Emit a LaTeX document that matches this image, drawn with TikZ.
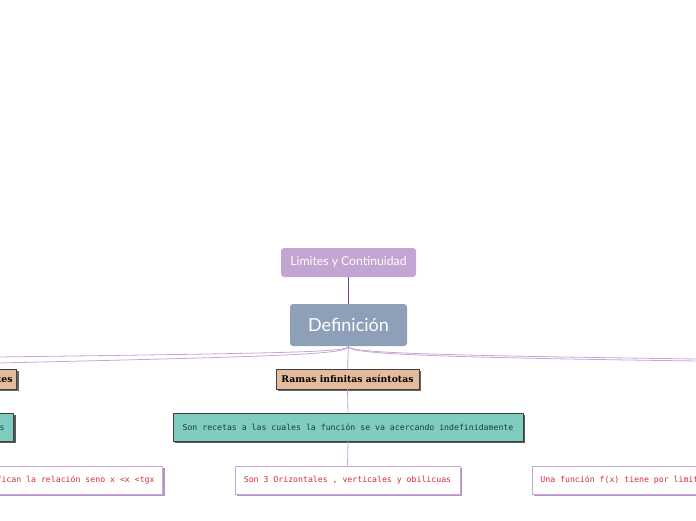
\documentclass[tikz,border=0pt]{standalone}
\usepackage{fontspec}
\usetikzlibrary{shadows}
\newfontfamily\latof{Lato}
\newfontfamily\monof{DejaVu Sans Mono}
\newfontfamily\slabf{DejaVu Serif}
\definecolor{limfill}{HTML}{C3A5D3}
\definecolor{deffill}{HTML}{8DA0B8}
\definecolor{tanfill}{HTML}{E4BB9D}
\definecolor{tealfill}{HTML}{7ECDC0}
\definecolor{darkpurple}{HTML}{7B3F9B}
\definecolor{lightpurple}{HTML}{C6A6D8}
\definecolor{redtext}{HTML}{D62850}
\definecolor{tealtext}{HTML}{1E3B37}
\tikzset{
  topbox/.style={rounded corners=3pt, fill=limfill, text=white, inner sep=0pt,
    minimum width=135pt, minimum height=29pt, font=\latof\fontsize{12.2}{14}\selectfont},
  defbox/.style={rounded corners=3pt, fill=deffill, text=white, inner sep=0pt,
    minimum width=117pt, minimum height=42pt, font=\latof\fontsize{18}{20}\selectfont},
  tanbox/.style={fill=tanfill, draw=black!75, line width=0.7pt, inner ysep=0pt, inner xsep=4pt,
    minimum height=20pt, font=\slabf\bfseries\fontsize{9.3}{11}\selectfont,
    drop shadow={shadow xshift=2pt, shadow yshift=-2pt, fill=black!60, opacity=1}},
  tealbox/.style={fill=tealfill, draw=black!75, line width=0.7pt, inner ysep=0pt, inner xsep=5pt,
    minimum height=28pt, text=tealtext, font=\monof\fontsize{8.2}{10}\selectfont,
    drop shadow={shadow xshift=2pt, shadow yshift=-2pt, fill=black!65, opacity=1}},
  whitebox/.style={fill=white, draw=lightpurple, line width=0.8pt, inner ysep=0pt, inner xsep=8pt,
    minimum height=28pt, text=redtext, font=\monof\fontsize{8.2}{10}\selectfont,
    drop shadow={shadow xshift=2pt, shadow yshift=-2pt, fill=lightpurple!90!black, opacity=1}},
  conn/.style={draw=lightpurple, line width=0.8pt},
  conndark/.style={draw=darkpurple, line width=0.9pt},
}
\begin{document}
\begin{tikzpicture}[x=1pt,y=-1pt]
\useasboundingbox (0,0) rectangle (696,520);
% nodes
\node[topbox] (lim) at (348.5,262.5) {Limites y Continuidad};
\node[defbox] (def) at (348.5,325) {Definición};
\node[tanbox, minimum width=143pt] (ramas) at (347.5,379) {Ramas infinitas asíntotas};
\node[tanbox, anchor=east] (lim2) at (17,379) {Límites};
\node[tealbox, minimum width=350pt] (rec) at (348,427) {Son recetas a las cuales la función se va acercando indefinidamente};
\node[tealbox, anchor=east, inner xsep=9pt] (rec2) at (14,427) {Son asíntotas};
\node[whitebox, minimum width=225pt] (son) at (347.5,480) {Son 3 Orizontales , verticales y obilicuas};
\node[whitebox, anchor=east] (ver) at (163,480) {Se verifican la relación seno x <x <tgx};
\node[whitebox, anchor=west] (una) at (532,480) {Una función f(x) tiene por limite L};
% free ends
\coordinate (L1) at (-2,357);
\coordinate (L2) at (-2,363);
\coordinate (R1) at (698,359);
\coordinate (R2) at (698,361);
% connectors
\draw[conndark] (lim.south) -- (def.north);
\draw[conn] (def.south) -- (ramas.north);
\draw[conn] (def.south) .. controls (348,352) and (300,353) .. (L1);
\draw[conn] (def.south) .. controls (348,354) and (300,356) .. (L2);
\draw[conn] (def.south) .. controls (348,352) and (400,355) .. (R1);
\draw[conn] (def.south) .. controls (348,353) and (400,357) .. (R2);
\draw[conn] (ramas.south) -- (rec.north);
\draw[conn] (rec.south) -- (son.north);
\end{tikzpicture}
\end{document}
